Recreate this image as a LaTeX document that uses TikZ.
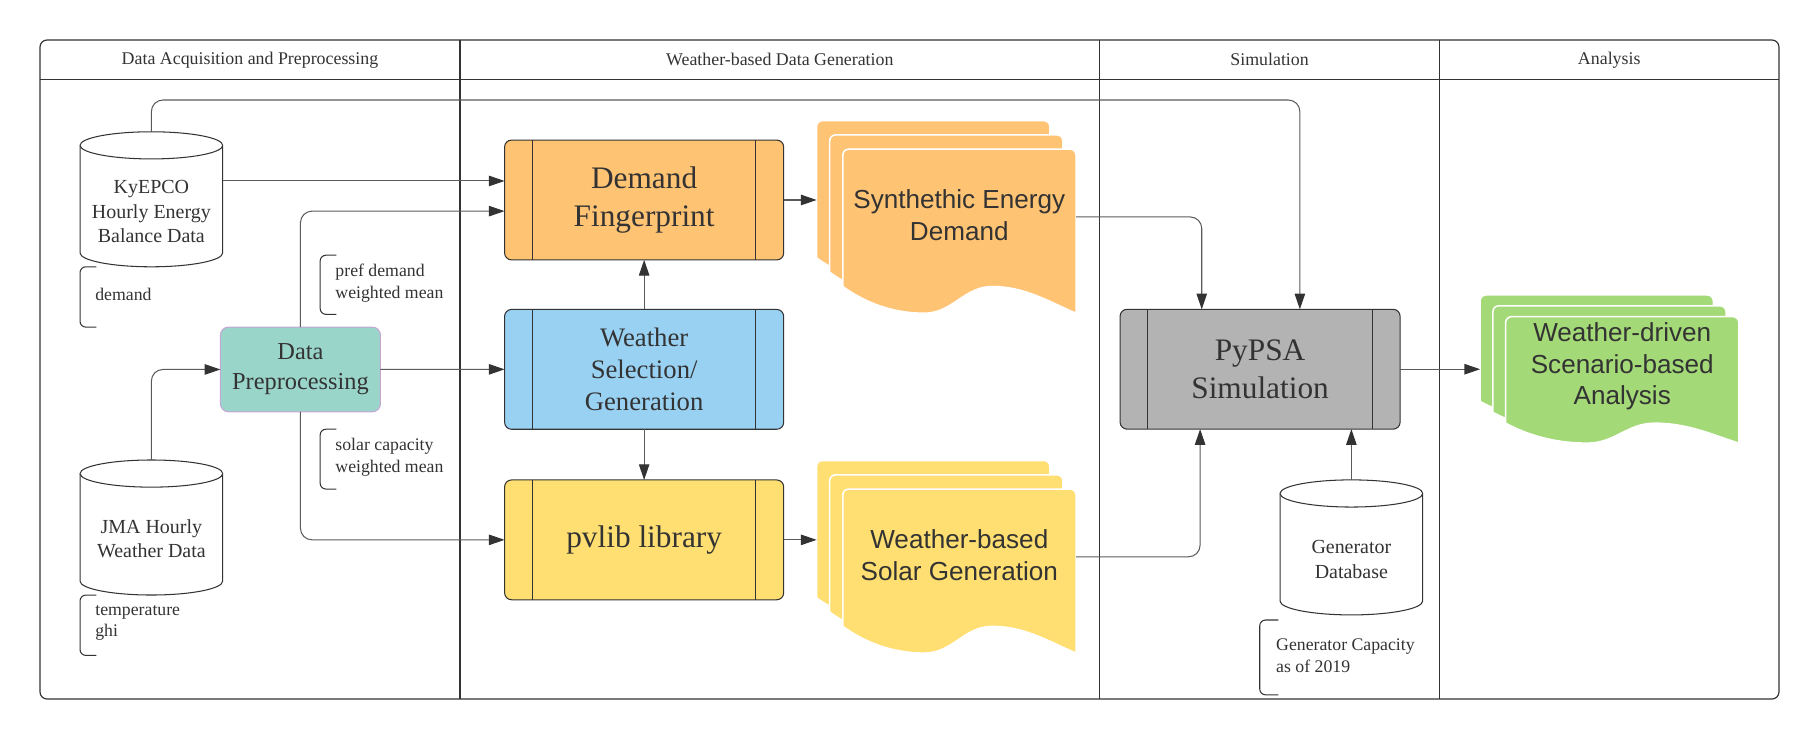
\documentclass[tikz,border=0pt]{standalone}
\usepackage{fontspec}
\setmainfont{Liberation Serif}
\setsansfont{Liberation Sans}
\usetikzlibrary{arrows.meta,calc}
\definecolor{ink}{HTML}{333333}
\definecolor{lineg}{HTML}{5A5A5A}
\definecolor{orangef}{HTML}{FFC374}
\definecolor{bluef}{HTML}{99D1F3}
\definecolor{yellowf}{HTML}{FFDF71}
\definecolor{tealf}{HTML}{9AD5CA}
\definecolor{grayf}{HTML}{B3B3B3}
\definecolor{greenf}{HTML}{A3D977}
\definecolor{lavender}{HTML}{C6A6D6}
\tikzset{
  frame/.style={draw=ink, line width=1pt},
  header/.style={text=ink, font=\fontsize{15.4}{18}\selectfont, inner sep=0pt},
  conn/.style={draw=lineg, line width=0.9pt, rounded corners=10pt,
    -{Triangle[length=13.5pt,width=9pt,color=ink]}},
  procbox/.style={draw=ink, line width=0.9pt, rounded corners=6pt,
    minimum width=240.6pt, minimum height=103.3pt, inner sep=0pt, outer sep=0pt,
    align=center, text=ink},
  prepbox/.style={draw=lavender, fill=tealf, line width=0.9pt, rounded corners=7pt,
    minimum width=138pt, minimum height=73pt, inner sep=0pt, outer sep=0pt,
    align=center, text=ink, font=\fontsize{21}{26}\selectfont},
  cylnode/.style={minimum width=123pt, minimum height=116.4pt, inner sep=0pt, outer sep=0pt},
  cylline/.style={draw=ink, fill=white, line width=0.9pt},
  cyltext/.style={align=center, text=ink, inner sep=0pt, font=\fontsize{17.2}{21}\selectfont},
  stackbox/.style={inner sep=0pt, outer sep=0pt},
  doctext/.style={align=center, text=ink, inner sep=0pt, font=\sffamily\fontsize{22.5}{27.4}\selectfont},
  brk/.style={draw=ink, line width=0.9pt, rounded corners=5pt},
  notetext/.style={anchor=west, align=left, text=ink, inner sep=0pt, font=\fontsize{15.3}{18.7}\selectfont},
}
\newcommand\sidebars[2]{\draw[ink, line width=0.9pt] ([xshift=#2]#1.north west) -- ([xshift=#2]#1.south west) ([xshift=-#2]#1.north east) -- ([xshift=-#2]#1.south east);}
\newcommand\cylof[1]{%
  \filldraw[cylline] ([yshift=-11.7pt]#1.north west) -- ([yshift=12pt]#1.south west)
    arc[start angle=180,end angle=360,x radius=61.5pt,y radius=12pt]
    -- ([yshift=-11.7pt]#1.north east)
    arc[start angle=0,end angle=180,x radius=61.5pt,y radius=11.7pt] -- cycle;
  \draw[cylline] ([yshift=-11.7pt]#1.north west)
    arc[start angle=180,end angle=360,x radius=61.5pt,y radius=11.7pt];}
\newcommand\docshape[4]{%
  \filldraw[fill=#4, draw=white, line width=1.3pt]
    (0,{-#2}) -- (0,-5) arc[start angle=180,end angle=90,radius=5pt]
    -- ({#1-5},0) arc[start angle=90,end angle=0,radius=5pt]
    -- (#1,{-(#2+#3)})
    .. controls ({0.88*#1},{-(#2+0.55*#3)}) and ({0.78*#1},{-#2}) .. ({0.64*#1},{-#2})
    .. controls ({0.52*#1},{-#2}) and ({0.47*#1},{-(#2+#3)}) .. ({0.35*#1},{-(#2+#3)})
    .. controls ({0.24*#1},{-(#2+#3)}) and ({0.12*#1},{-(#2+0.75*#3)}) .. (0,{-#2}) -- cycle;}
\newcommand\docstack[7]{%
  \foreach \k in {0,1,2}{%
    \begin{scope}[shift={($(#1.north west)+({\k*#5},{-\k*#6})$)}]
      \docshape{#2}{#3}{#4}{#7}
    \end{scope}}}
\begin{document}
\begin{tikzpicture}[x=1pt,y=1pt]
\useasboundingbox (0,0) rectangle (1569,-638);
% frame and lanes
\draw[frame, rounded corners=6pt] (34.5,-34.5) rectangle (1533.6,-602.6);
\draw[frame] (34.5,-68.4) -- (1533.6,-68.4);
\draw[frame] (396.6,-34.5) -- (396.6,-602.6);
\draw[frame] (948,-34.5) -- (948,-602.6);
\draw[frame] (1241,-34.5) -- (1241,-602.6);
\node[header] (h1) at (215.5,-51.5) {Data Acquisition and Preprocessing};
\node[header] (h2) at (672.3,-51.5) {Weather-based Data Generation};
\node[header] (h3) at (1094.5,-51.5) {Simulation};
\node[header] (h4) at (1387.3,-51.5) {Analysis};

% cylinders
\node[cylnode] (ky) at (130.5,-171.8) {};
\node[cylnode] (jma) at (130.5,-454.75) {};
\node[cylnode] (gen) at (1165,-471.9) {};
\cylof{ky}\cylof{jma}\cylof{gen}
\node[cyltext] (kyt) at (130.5,-182.5) {KyEPCO\\Hourly Energy\\Balance Data};
\node[cyltext] (jmat) at (130.5,-464.5) {JMA Hourly\\Weather Data};
\node[cyltext] (gent) at (1165,-482.4) {Generator\\Database};

% process boxes
\node[procbox, fill=orangef, font=\fontsize{27}{32.3}\selectfont] (dem) at (555.3,-172.4) {Demand\\Fingerprint};
\node[procbox, fill=bluef, font=\fontsize{23}{27.4}\selectfont] (wea) at (555.3,-318.4) {Weather\\Selection/\\Generation};
\node[procbox, fill=yellowf, font=\fontsize{27}{32}\selectfont] (pv) at (555.3,-465.4) {pvlib library};
\node[procbox, fill=grayf, minimum width=241.4pt, font=\fontsize{27}{33}\selectfont] (py) at (1086.3,-318.3) {PyPSA\\Simulation};
\sidebars{dem}{24pt}\sidebars{wea}{24pt}\sidebars{pv}{24pt}\sidebars{py}{24pt}
\node[prepbox] (prep) at (259,-318.5) {Data\\Preprocessing};

% document stacks
\node[stackbox, minimum width=223.6pt, minimum height=166pt] (syn) at (815.8,-187) {};
\docstack{syn}{201}{118.4}{23}{11.3}{12.3}{orangef}
\node[doctext] (synt) at (827,-185.3) {Synthethic Energy\\Demand};
\node[stackbox, minimum width=223.6pt, minimum height=166pt] (sol) at (815.8,-480) {};
\docstack{sol}{201}{118.4}{23}{11.3}{12.3}{yellowf}
\node[doctext] (solt) at (827,-478.5) {Weather-based\\Solar Generation};
\node[stackbox, minimum width=223pt, minimum height=127.7pt] (ana) at (1387.5,-318.15) {};
\docstack{ana}{201}{91.8}{17.2}{11}{9.35}{greenf}
\node[doctext] (anat) at (1398.5,-315.8) {Weather-driven\\Scenario-based\\Analysis};

% annotations
\draw[brk] (83,-230) -- (69,-230) -- (69,-282) -- (83,-282);
\node[notetext] (n1) at (82,-254) {demand};
\draw[brk] (290,-220) -- (276,-220) -- (276,-271) -- (290,-271);
\node[notetext] (n2) at (289,-244) {pref demand\\weighted mean};
\draw[brk] (290,-370) -- (276,-370) -- (276,-421.6) -- (290,-421.6);
\node[notetext] (n3) at (289,-394) {solar capacity\\weighted mean};
\draw[brk] (83,-513) -- (69,-513) -- (69,-565) -- (83,-565);
\node[notetext] (n4) at (82,-537) {temperature\\ghi};
\draw[brk] (1102,-534.5) -- (1086,-534.5) -- (1086,-599) -- (1102,-599);
\node[notetext] (n5) at (1100,-565) {Generator Capacity\\as of 2019};

% connectors
\coordinate (rail) at (0,-86.2);
\coordinate (pyin1) at ([xshift=34.3pt]py.north);
\coordinate (pyin2) at ([xshift=-50.3pt]py.north);
\coordinate (pyin3) at ([xshift=-51.7pt]py.south);
\coordinate (kyout) at ([yshift=15.8pt]ky.east);
\coordinate (demin2) at ([yshift=-9.6pt]dem.west);
\draw[conn] (ky.north) -- (ky.north |- rail) -- (pyin1 |- rail) -- (pyin1);
\draw[conn] (kyout) -- (kyout -| dem.west);
\draw[conn] (prep.north) |- (demin2);
\draw[conn] (jma.north) |- (prep.west);
\draw[conn] (prep.east) -- (wea.west);
\draw[conn] (prep.south) |- (pv.west);
\draw[conn] (wea.north) -- (dem.south);
\draw[conn] (wea.south) -- (pv.north);
\draw[conn] (dem.east) -- (dem.east -| syn.west);
\draw[conn] (pv.east) -- (pv.east -| sol.west);
\draw[conn] (syn.east) -| (pyin2);
\draw[conn] (sol.east) -| (pyin3);
\draw[conn] (gen.north) -- (gen.north |- py.south);
\draw[conn] (py.east) -- (py.east -| ana.west);
\end{tikzpicture}
\end{document}
